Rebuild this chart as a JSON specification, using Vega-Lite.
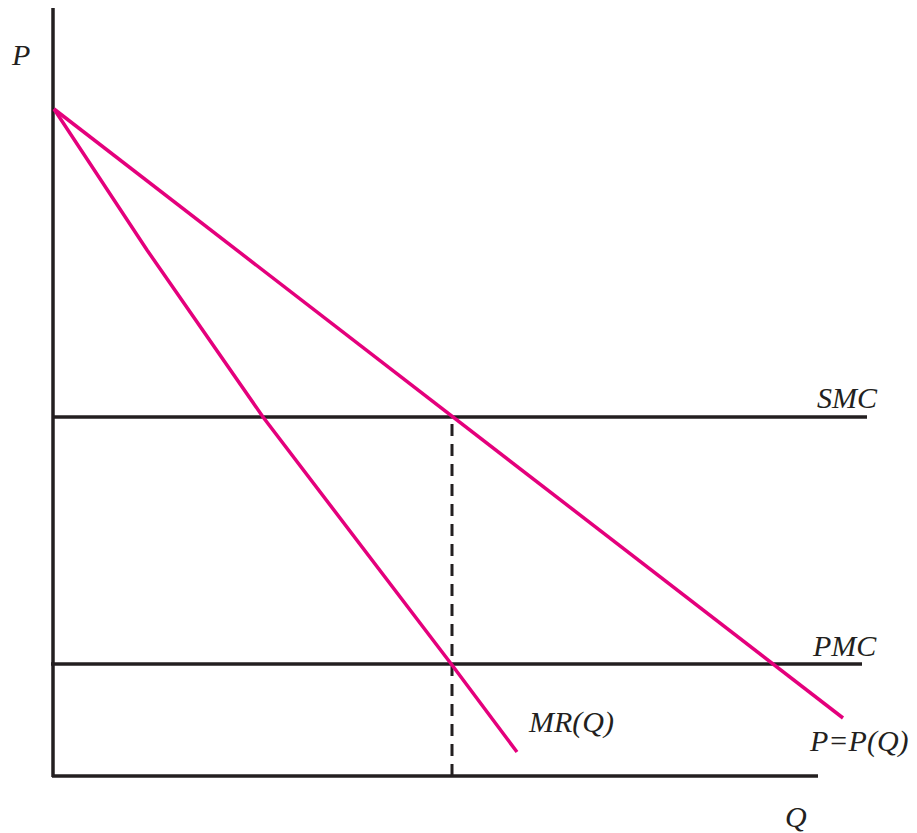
{
  "$schema": "https://vega.github.io/schema/vega-lite/v6.json",
  "width": 917,
  "height": 833,
  "padding": 0,
  "autosize": {"type": "none"},
  "background": "white",
  "config": {"view": {"stroke": null}},
  "datasets": {
    "axes": [
      {"seg": "P axis", "q": 0, "p": -0.01, "q2": 0, "p2": 7.68},
      {"seg": "Q axis", "q": -0.01, "p": 0, "q2": 7.65, "p2": 0}
    ],
    "costs": [
      {"seg": "SMC", "q": 0, "p": 3.59, "q2": 8.14, "p2": 3.59},
      {"seg": "PMC", "q": -0.02, "p": 1.12, "q2": 8.09, "p2": 1.12}
    ],
    "dashed": [
      {"seg": "Q*", "q": 3.99, "p": 0, "q2": 3.99, "p2": 3.59}
    ],
    "demand": [
      {"seg": "P=P(Q)", "q": 0.01, "p": 6.67, "q2": 7.9, "p2": 0.58}
    ],
    "mr": [
      {"i": 0, "q": 0.01, "p": 6.67},
      {"i": 1, "q": 0.94, "p": 5.26},
      {"i": 2, "q": 2.1, "p": 3.59},
      {"i": 3, "q": 3.99, "p": 1.11},
      {"i": 4, "q": 4.64, "p": 0.24}
    ],
    "labels": [
      {"text": "P", "q": -0.41, "p": 7.11},
      {"text": "Q", "q": 7.32, "p": -0.51},
      {"text": "SMC", "q": 7.64, "p": 3.68},
      {"text": "PMC", "q": 7.6, "p": 1.2},
      {"text": "MR(Q)", "q": 4.76, "p": 0.44},
      {"text": "P=P(Q)", "q": 7.57, "p": 0.25}
    ]
  },
  "encoding": {
    "x": {"field": "q", "type": "quantitative", "axis": null, "scale": {"domain": [-0.53, 8.64], "nice": false, "zero": false}},
    "y": {"field": "p", "type": "quantitative", "axis": null, "scale": {"domain": [-0.57, 7.76], "nice": false, "zero": false}}
  },
  "layer": [
    {
      "data": {"name": "axes"},
      "mark": {"type": "rule", "color": "#231f20", "strokeWidth": 3.5},
      "encoding": {"x2": {"field": "q2"}, "y2": {"field": "p2"}}
    },
    {
      "data": {"name": "costs"},
      "mark": {"type": "rule", "color": "#231f20", "strokeWidth": 3.5},
      "encoding": {"x2": {"field": "q2"}, "y2": {"field": "p2"}}
    },
    {
      "data": {"name": "dashed"},
      "mark": {"type": "rule", "color": "#231f20", "strokeWidth": 3, "strokeDash": [12, 8]},
      "encoding": {"x2": {"field": "q2"}, "y2": {"field": "p2"}}
    },
    {
      "data": {"name": "demand"},
      "mark": {"type": "rule", "color": "#e4007c", "strokeWidth": 3.5},
      "encoding": {"x2": {"field": "q2"}, "y2": {"field": "p2"}}
    },
    {
      "data": {"name": "mr"},
      "mark": {"type": "line", "color": "#e4007c", "strokeWidth": 3.5},
      "encoding": {"order": {"field": "i", "type": "quantitative"}}
    },
    {
      "data": {"name": "labels"},
      "mark": {"type": "text", "align": "left", "baseline": "alphabetic", "font": "Liberation Serif", "fontStyle": "italic", "fontSize": 30, "color": "#231f20"},
      "encoding": {"text": {"field": "text"}}
    }
  ]
}
